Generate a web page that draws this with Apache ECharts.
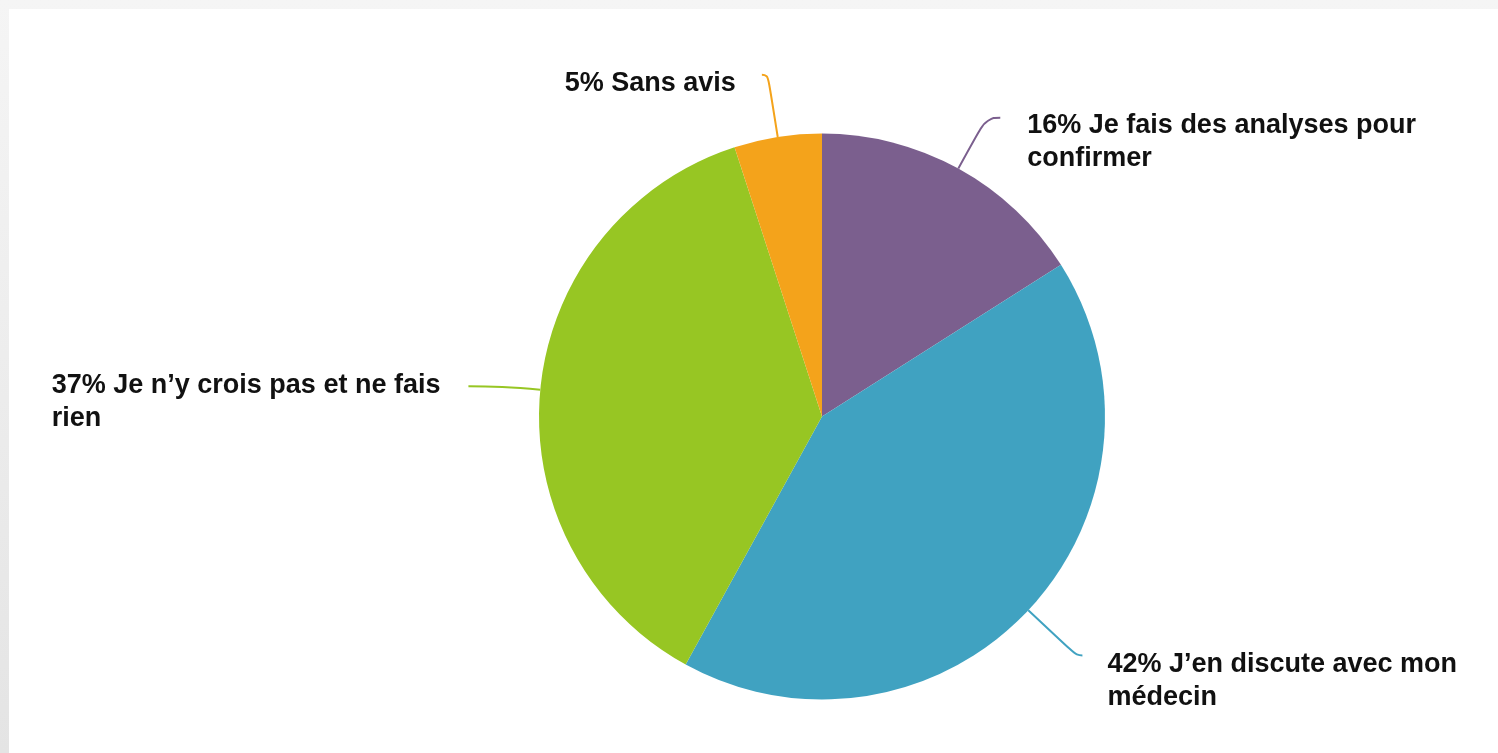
<!DOCTYPE html>
<html>
<head>
<meta charset="utf-8">
<script src="https://cdn.jsdelivr.net/npm/echarts@6/dist/echarts.min.js"></script>
<style>
  html, body { margin: 0; padding: 0; }
  body {
    width: 1498px; height: 753px; overflow: hidden;
    background: linear-gradient(to bottom, #f5f5f5, #e4e4e4);
  }
  #chart {
    position: absolute; left: 9px; top: 9px;
    width: 1489px; height: 744px; background: #fff;
  }
</style>
</head>
<body>
<div id="chart"></div>
<script>
// answers, clockwise from 12 o'clock
var answers = [
  'Je fais des analyses pour\nconfirmer',
  'J\u2019en discute avec mon\nmédecin',
  'Je n\u2019y crois pas et ne fais\nrien',
  'Sans avis'
];
var percents = [16, 42, 37, 5];
var colors = ['#7b5f8e', '#40a2c1', '#97c623', '#f4a31b'];

// label line / text placement per slice (spacer = empty space above the text)
var labelPlacement = [
  { length: 58, length2: 14, gap: 27, spacer: 48 },
  { length: 66, length2: 6,  gap: 25, spacer: 52 },
  { length: 38, length2: 34, gap: 28, spacer: 32 },
  { length: 63, length2: 6,  gap: 26, spacer: 18 }
];

var chart = echarts.init(document.getElementById('chart'));

var pieData = answers.map(function (name, i) {
  var p = labelPlacement[i];
  var rich = {
    t: { fontFamily: '"Liberation Sans", Arial, sans-serif', fontWeight: 'bold',
         fontSize: 27, lineHeight: 33, color: '#111', align: 'left' },
    gap: { fontSize: 1, lineHeight: p.spacer }
  };
  return {
    name: name,
    value: percents[i],
    itemStyle: { color: colors[i] },
    label: { distanceToLabelLine: p.gap, rich: rich },
    labelLine: { length: p.length, length2: p.length2, lineStyle: { color: colors[i] } }
  };
});

chart.setOption({
  animation: false,
  series: [{
    type: 'pie',
    center: [813, 407.5],
    radius: 283,
    startAngle: 90,
    clockwise: true,
    avoidLabelOverlap: false,
    emphasis: { disabled: true },
    itemStyle: { borderWidth: 0 },
    label: {
      show: true,
      position: 'outside',
      formatter: function (p) {
        var lines = (p.value + '% ' + p.name).split('\n');
        return '{gap| }\n' + lines.map(function (l) { return '{t|' + l + '}'; }).join('\n');
      }
    },
    labelLine: {
      show: true,
      smooth: 0.5,
      lineStyle: { width: 2 }
    },
    data: pieData
  }]
});
</script>
</body>
</html>
